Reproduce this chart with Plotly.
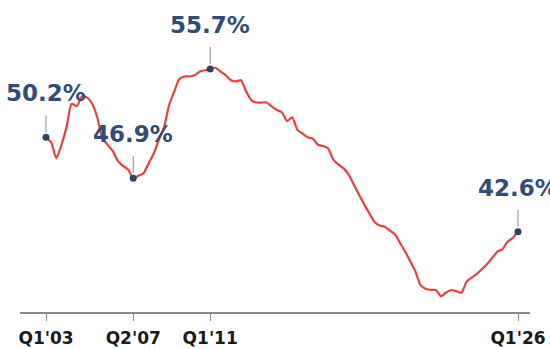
import plotly.graph_objects as go

# Quarterly series, Q1'03 .. Q1'26 (index 0..92)
values = [
    50.2, 49.8, 48.5, 49.6, 51.0, 52.9, 52.7, 53.5, 53.4, 52.9,
    51.8, 50.1, 49.6, 49.1, 48.3, 47.9, 47.6, 46.9, 47.1, 47.3,
    48.1, 48.9, 50.0, 51.0, 52.8, 53.9, 54.9, 55.1, 55.1, 55.2,
    55.5, 55.6, 55.7, 55.8, 55.5, 55.2, 54.8, 54.7, 54.8, 53.9,
    53.2, 53.0, 53.0, 53.0, 52.7, 52.4, 52.2, 51.5, 51.8, 50.8,
    50.5, 50.2, 50.1, 49.6, 49.5, 49.3, 48.4, 48.0, 47.7, 47.2,
    46.4, 45.6, 44.8, 44.1, 43.4, 43.1, 43.0, 42.7, 42.4, 41.7,
    41.0, 40.2, 39.4, 38.3, 38.0, 37.9, 37.9, 37.4, 37.7, 37.9,
    37.8, 37.7, 38.6, 38.9, 39.2, 39.6, 40.0, 40.5, 41.0, 41.2,
    41.8, 42.1, 42.6,
]
quarters = list(range(len(values)))

tick_idx = [0, 17, 32, 92]
tick_labels = ["Q1'03", "Q2'07", "Q1'11", "Q1'26"]

label_idx = [0, 17, 32, 92]
label_text = ["50.2%", "46.9%", "55.7%", "42.6%"]

LINE = "#e8403f"
DOT = "#2b4466"
LABEL = "#2f4d78"
GREY = "#8a8a8a"

fig = go.Figure()
fig.add_trace(go.Scatter(
    x=quarters, y=values, mode="lines",
    line=dict(color=LINE, width=2.2, shape="spline", smoothing=0.6),
    hoverinfo="skip",
))
fig.add_trace(go.Scatter(
    x=label_idx, y=[values[i] for i in label_idx], mode="markers",
    marker=dict(color=DOT, size=7),
    hoverinfo="skip",
))

for i, t in zip(label_idx, label_text):
    fig.add_annotation(
        x=i, y=values[i], xref="x", yref="y",
        text=t, showarrow=True, arrowhead=0, arrowwidth=1, arrowcolor=GREY,
        ax=0, ay=-22, standoff=5, yanchor="bottom", borderpad=8,
        font=dict(family="DejaVu Sans", size=23, color=LABEL, weight="bold"),
    )

fig.update_layout(
    width=550, height=349,
    margin=dict(l=20, r=20, t=0, b=37),
    paper_bgcolor="white", plot_bgcolor="white",
    showlegend=False,
    xaxis=dict(
        range=[-5.07, 94.34], showgrid=False, zeroline=False,
        showline=True, linecolor=GREY, linewidth=1.5,
        ticks="outside", ticklen=7, tickcolor=GREY, tickwidth=1,
        ticklabelstandoff=3,
        tickvals=tick_idx, ticktext=tick_labels,
        tickfont=dict(family="DejaVu Sans", size=17, color="#1a1a1a", weight="bold"),
    ),
    yaxis=dict(
        range=[36.13, 61.26], showgrid=False, zeroline=False,
        showline=False, showticklabels=False, ticks="",
    ),
)

fig.write_html("out.html")
